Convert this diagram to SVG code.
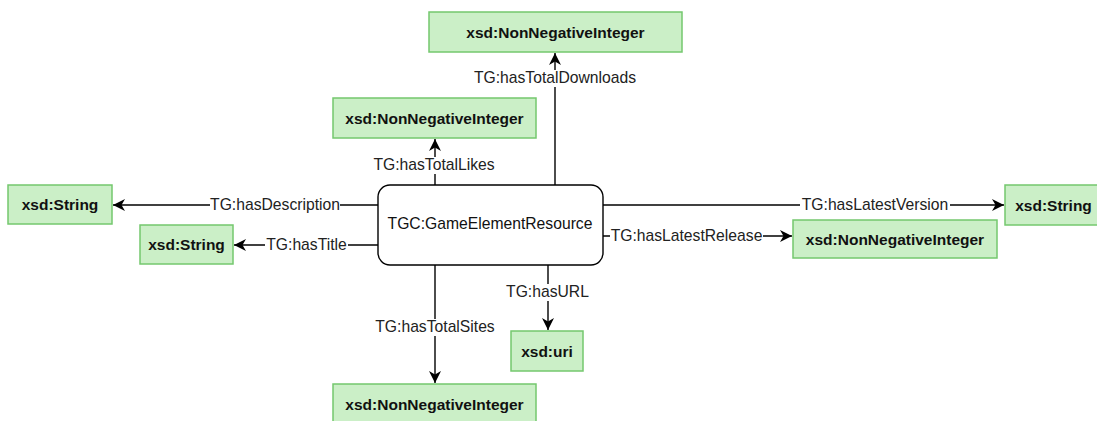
<svg xmlns="http://www.w3.org/2000/svg" width="1097" height="421" viewBox="0 0 1097 421">
  <style>
    .lit { fill: #cbefc7; stroke: #74c86e; stroke-width: 1.5; }
    .lt { font-family: "Liberation Sans", Arial, sans-serif; font-weight: bold; font-size: 15.5px; fill: #111; text-anchor: middle; }
    .edge { stroke: #000; stroke-width: 1.4; fill: none; }
    .el { font-family: "Liberation Sans", Arial, sans-serif; font-size: 15.7px; fill: #222; text-anchor: middle; }
    .bg { fill: #fff; }
  </style>
  <defs>
    <marker id="arr" markerUnits="userSpaceOnUse" markerWidth="14" markerHeight="12" refX="12" refY="6" orient="auto">
      <path d="M0,0 L12,6 L0,12 L3.5,6 z" fill="#000"/>
    </marker>
  </defs>
  <rect width="1097" height="421" fill="#fff"/>

  <g id="connectors">
    <line class="edge" x1="555" y1="185" x2="555" y2="53" marker-end="url(#arr)"/>
    <line class="edge" x1="435" y1="185" x2="435" y2="139" marker-end="url(#arr)"/>
    <line class="edge" x1="378" y1="205" x2="113" y2="205" marker-end="url(#arr)"/>
    <line class="edge" x1="378" y1="245" x2="234" y2="245" marker-end="url(#arr)"/>
    <line class="edge" x1="603" y1="205" x2="1004" y2="205" marker-end="url(#arr)"/>
    <line class="edge" x1="603" y1="236" x2="792" y2="236" marker-end="url(#arr)"/>
    <line class="edge" x1="435" y1="265" x2="435" y2="383" marker-end="url(#arr)"/>
    <line class="edge" x1="548" y1="265" x2="548" y2="330" marker-end="url(#arr)"/>

    <rect class="bg" x="478" y="70" width="154" height="17"/>
    <text class="el" x="555" y="83">TG:hasTotalDownloads</text>
    <rect class="bg" x="372" y="157" width="126" height="17"/>
    <text class="el" x="434" y="170">TG:hasTotalLikes</text>
    <rect class="bg" x="210" y="197" width="130" height="17"/>
    <text class="el" x="275" y="210">TG:hasDescription</text>
    <rect class="bg" x="265" y="237" width="83" height="17"/>
    <text class="el" x="306.5" y="250">TG:hasTitle</text>
    <rect class="bg" x="800" y="197" width="150" height="17"/>
    <text class="el" x="875" y="210">TG:hasLatestVersion</text>
    <rect class="bg" x="610" y="228" width="153" height="17"/>
    <text class="el" x="686.5" y="241">TG:hasLatestRelease</text>
    <rect class="bg" x="372" y="319" width="126" height="17"/>
    <text class="el" x="435" y="332">TG:hasTotalSites</text>
    <rect class="bg" x="505" y="284" width="85" height="17"/>
    <text class="el" x="547.5" y="297">TG:hasURL</text>
  </g>

  <g id="center">
    <rect x="378" y="185" width="225" height="80" rx="12" ry="12" fill="#fff" stroke="#000" stroke-width="1.4"/>
    <text class="el" x="490" y="229" style="fill:#111">TGC:GameElementResource</text>
  </g>
  <g id="downloads">
    <rect class="lit" x="429" y="12" width="253" height="40"/>
    <text class="lt" x="555.5" y="37.5">xsd:NonNegativeInteger</text>
  </g>
  <g id="likes">
    <rect class="lit" x="333" y="98" width="203" height="40"/>
    <text class="lt" x="434.5" y="123.5">xsd:NonNegativeInteger</text>
  </g>
  <g id="description">
    <rect class="lit" x="8" y="185" width="104" height="39"/>
    <text class="lt" x="60" y="210">xsd:String</text>
  </g>
  <g id="title">
    <rect class="lit" x="140" y="225" width="93" height="39"/>
    <text class="lt" x="186.5" y="250">xsd:String</text>
  </g>
  <g id="version">
    <rect class="lit" x="1005" y="185" width="97" height="40"/>
    <text class="lt" x="1053.5" y="210.5">xsd:String</text>
  </g>
  <g id="release">
    <rect class="lit" x="793" y="220" width="204" height="38"/>
    <text class="lt" x="895" y="244.5">xsd:NonNegativeInteger</text>
  </g>
  <g id="url">
    <rect class="lit" x="511" y="331" width="72" height="40"/>
    <text class="lt" x="547" y="356.5">xsd:uri</text>
  </g>
  <g id="sites">
    <rect class="lit" x="333" y="384" width="203" height="40"/>
    <text class="lt" x="434.5" y="410">xsd:NonNegativeInteger</text>
  </g>
</svg>
